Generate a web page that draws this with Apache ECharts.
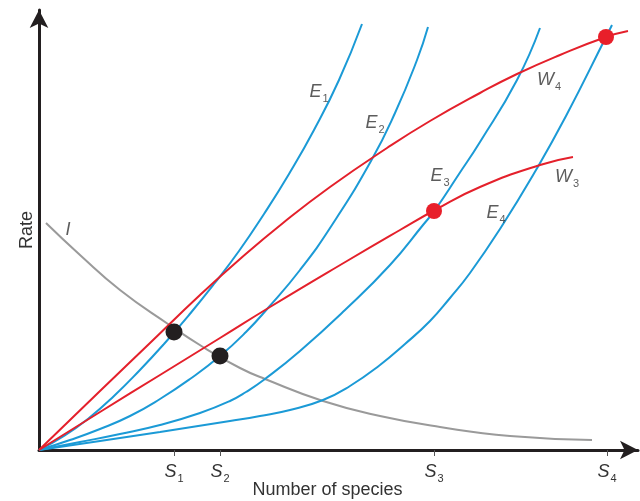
<!DOCTYPE html>
<html>
<head>
<meta charset="utf-8">
<script src="https://cdn.jsdelivr.net/npm/echarts@6/dist/echarts.min.js"></script>
<style>
html,body{margin:0;padding:0;background:#fff;}
#chart{width:640px;height:501px;}
</style>
</head>
<body>
<div id="chart"></div>
<script>
// ---- data (x: number of species, y: rate; arbitrary units) ----
const curveE1 = [[0,0],[25,14],[50,32],[75,54],[100,79],[125,106],[150,135],[175,166],[200,199],[225,236],[250,276],[275,320],[300,370],[323,426]];
const curveE2 = [[0,0],[31,10],[61,21],[91,34],[121,51],[151,71],[181,94],[207,118],[229,142],[261,180],[293,225],[332,289],[356,337],[378,390],[389,423]];
const curveE3 = [[0,0],[41,8],[81,16],[121,25],[161,37],[191,49],[207,58],[226,71],[261,99],[306,140],[351,185],[384,225],[396,240],[420,276],[441,308],[478,370],[501,422]];
const curveE4 = [[0,0],[61,9],[121,18],[191,29],[221,34],[251,40],[284,50],[311,64],[341,85],[366,106],[391,129],[411,152],[431,177],[461,221],[497,280],[527,334],[567,413],[573,425]];
const curveW4 = [[0,0],[61,59],[111,107],[161,155],[201,191],[244,227],[291,263],[348,302],[391,329],[441,357],[478,376],[521,395],[567,413],[589,419]];
const curveW3 = [[0,0],[61,38],[121,75],[181,112],[231,143],[308,189],[361,220],[396,240],[441,263],[501,285],[534,293]];
const curveI  = [[7,227],[41,195],[81,160],[129,126],[164,103],[201,82],[226,71],[284,49],[341,34],[401,23],[471,14],[553,10]];
const blackPoints = [[135,118],[181,94]];
const redPoints = [[395,239],[567,413]];
const tickValues = [135,181,395,568];
const tickSubs = ['1','2','3','4'];
const curveLabelNames = ['E','E','E','E','W','W','I'];
const curveLabelSubs  = ['1','2','3','4','4','3',''];
const curveLabelAnchors = [[280,358],[336,327],[401,274],[457,237],[510,370],[528,273],[29,220]];
const xName = 'Number of species';
const yName = 'Rate';

const FONT = "'Liberation Sans', Arial, sans-serif";
const TXT = '#333333';
const BLUE = '#1b9ad6';
const RED = '#e4202b';
const GRAY = '#9a9a9a';
const DARK = '#231f20';

const chart = echarts.init(document.getElementById('chart'), null, {renderer:'canvas'});

function lineSeries(data, color, z) {
  return {type:'line', data:data, symbol:'none', smooth:0.5, z:z,
          lineStyle:{color:color, width:2}, silent:true};
}

const labelData = curveLabelAnchors.map((p,i)=>({value:p, name:curveLabelNames[i], sub:curveLabelSubs[i]}));

const richText = {
  m:{fontSize:18, fontStyle:'italic', fontFamily:FONT, color:TXT},
  s:{fontSize:11, fontFamily:FONT, color:TXT, padding:[14,0,0,1]}
};

const option = {
  animation:false,
  backgroundColor:'#fff',
  grid:{left:39, right:2, top:10, bottom:51, containLabel:false, outerBoundsMode:'none'},
  xAxis:{
    type:'value', min:0, max:599,
    axisLine:{show:true, onZero:false, symbol:['none','arrow'], symbolSize:[14,18],
              lineStyle:{color:DARK, width:3}},
    axisTick:{show:true, customValues:tickValues, length:6, lineStyle:{color:'#555', width:1}},
    axisLabel:{show:true, customValues:tickValues, margin:9,
      formatter:function(v){ const i = tickValues.indexOf(v); return '{m|S}{s|' + (i>=0?tickSubs[i]:'') + '}'; },
      rich:richText},
    splitLine:{show:false},
    name:xName, nameLocation:'middle', nameGap:31, nameMoveOverlap:false,
    nameTextStyle:{fontSize:18, fontFamily:FONT, color:TXT, padding:[0,22,0,0]}
  },
  yAxis:{
    type:'value', min:0, max:440,
    axisLine:{show:true, onZero:false, symbol:['none','arrow'], symbolSize:[14,18],
              lineStyle:{color:DARK, width:3}},
    axisTick:{show:false}, axisLabel:{show:false}, splitLine:{show:false},
    name:yName, nameLocation:'middle', nameGap:3, nameRotate:90, nameMoveOverlap:false,
    nameTextStyle:{fontSize:18, fontFamily:FONT, color:TXT}
  },
  series:[
    lineSeries(curveI, GRAY, 1),
    lineSeries(curveE1, BLUE, 2),
    lineSeries(curveE2, BLUE, 2),
    lineSeries(curveE3, BLUE, 2),
    lineSeries(curveE4, BLUE, 2),
    lineSeries(curveW4, RED, 3),
    lineSeries(curveW3, RED, 3),
    {type:'scatter', data:blackPoints, symbol:'circle', symbolSize:17, z:5,
     itemStyle:{color:DARK, opacity:1}, silent:true},
    {type:'scatter', data:redPoints, symbol:'circle', symbolSize:16, z:5,
     itemStyle:{color:'#e81f2a', opacity:1}, silent:true},
    {type:'scatter', data:labelData, symbolSize:0, z:6, silent:true,
     label:{show:true, position:'inside',
       formatter:function(p){ return '{m|' + p.data.name + '}' + (p.data.sub ? '{s|' + p.data.sub + '}' : ''); },
       rich:richText}}
  ]
};
chart.setOption(option);
</script>
</body>
</html>
